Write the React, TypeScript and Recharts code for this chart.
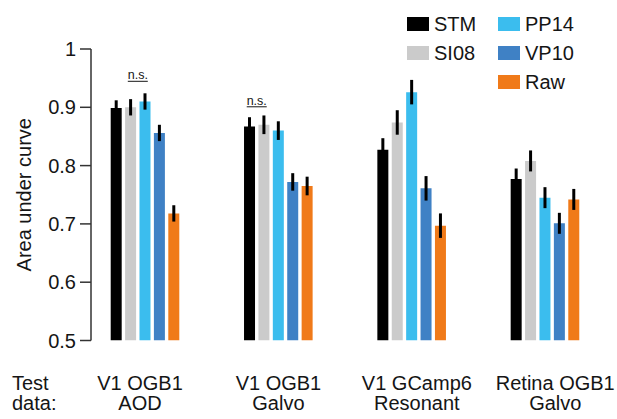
import React from 'react';
import { BarChart, Bar, XAxis, YAxis, ErrorBar, Legend, LabelList } from 'recharts';

// test datasets (two lines per label)
const groupLine1 = ['V1 OGB1', 'V1 OGB1', 'V1 GCamp6', 'Retina OGB1'];
const groupLine2 = ['AOD', 'Galvo', 'Resonant', 'Galvo'];

// area under curve per method
const stm = [0.899, 0.867, 0.827, 0.777];
const si08 = [0.9, 0.87, 0.874, 0.808];
const pp14 = [0.91, 0.86, 0.926, 0.745];
const vp10 = [0.856, 0.772, 0.761, 0.701];
const raw = [0.718, 0.765, 0.697, 0.742];

// s.e.m.
const stmErr = [0.013, 0.016, 0.02, 0.018];
const si08Err = [0.014, 0.016, 0.021, 0.018];
const pp14Err = [0.014, 0.016, 0.021, 0.018];
const vp10Err = [0.014, 0.015, 0.021, 0.018];
const rawErr = [0.014, 0.016, 0.021, 0.018];

const yTicks = [0.5, 0.6, 0.7, 0.8, 0.9, 1];

const series = [
  { key: 'STM', values: stm, errs: stmErr, color: '#000000' },
  { key: 'SI08', values: si08, errs: si08Err, color: '#cbcbcb' },
  { key: 'PP14', values: pp14, errs: pp14Err, color: '#3bbdee' },
  { key: 'VP10', values: vp10, errs: vp10Err, color: '#3f81c5' },
  { key: 'Raw', values: raw, errs: rawErr, color: '#f07a19' },
];

const legendColumns = [['STM', 'SI08'], ['PP14', 'VP10', 'Raw']];

// n.s. marks drawn next to the SI08 bar: group index and which neighbour
const nsMarks = [
  { group: 0, side: 'right', lift: 28 },
  { group: 1, side: 'left', lift: 20 },
];

const data = groupLine1.map((l1, i) => {
  const row: any = { name: `${l1} ${groupLine2[i]}` };
  series.forEach((s) => {
    row[s.key] = s.values[i];
    row[s.key + 'Err'] = s.errs[i];
  });
  return row;
});

const FONT = '"Liberation Sans", Arial, sans-serif';
const TEXT = '#151515';
const BAR_GAP = 3.4;

const GroupTick = (props: any) => {
  const { x, y, index } = props;
  return (
    <text x={x} y={y} textAnchor="middle" fontSize={20} fill={TEXT} fontFamily={FONT}>
      <tspan x={x} dy={49.5}>{groupLine1[index]}</tspan>
      <tspan x={x} dy={20}>{groupLine2[index]}</tspan>
    </text>
  );
};

const NsLabel = (props: any) => {
  const { x, y, width, index } = props;
  const mark = nsMarks.find((m) => m.group === index);
  if (!mark) return null;
  const cx = mark.side === 'right' ? x + width + BAR_GAP / 2 : x - BAR_GAP / 2;
  const base = y - mark.lift;
  return (
    <g>
      <text x={cx} y={base} textAnchor="middle" fontSize={12.5} fill={TEXT} fontFamily={FONT}>
        n.s.
      </text>
      <line x1={cx - 10} x2={cx + 10} y1={base + 2} y2={base + 2} stroke={TEXT} strokeWidth={1} />
    </g>
  );
};

const renderLegend = () => (
  <div style={{ display: 'flex', fontFamily: FONT, fontSize: 20, color: TEXT }}>
    {legendColumns.map((col, ci) => (
      <div key={ci} style={{ width: ci === 0 ? 91 : 100 }}>
        {col.map((name) => {
          const s = series.find((x) => x.key === name)!;
          return (
            <div key={name} style={{ display: 'flex', alignItems: 'center', height: 29, lineHeight: '20px' }}>
              <span style={{ width: 22, height: 14, background: s.color, marginRight: 5, flex: 'none' }} />
              <span>{name}</span>
            </div>
          );
        })}
      </div>
    ))}
  </div>
);

export default function App() {
  return (
    <div style={{ position: 'absolute', left: 0, top: 0, background: '#fff' }}>
      <BarChart
        width={617}
        height={419}
        data={data}
        margin={{ top: 49, right: 5, bottom: 0, left: 0 }}
        barSize={11}
        barGap={BAR_GAP}
      >
        <XAxis dataKey="name" xAxisId="bars" hide height={0} padding={{ left: -12.3, right: 0 }} />
        <XAxis
          dataKey="name"
          xAxisId="labels"
          height={78.5}
          axisLine={false}
          tickLine={false}
          tickSize={0}
          tickMargin={0}
          interval={0}
          padding={{ left: -20.2, right: -12.5 }}
          tick={<GroupTick />}
          label={{
            content: (p: any) => (
              <text x={12} y={p.viewBox.y} fontSize={20} fill={TEXT} fontFamily={FONT}>
                <tspan x={12} dy={49.5}>Test</tspan>
                <tspan x={12} dy={20}>data:</tspan>
              </text>
            ),
          }}
        />
        <YAxis
          width={91}
          domain={[0.5, 1]}
          ticks={yTicks}
          allowDataOverflow
          stroke="#333"
          strokeWidth={1.5}
          tickSize={11}
          tickMargin={4}
          tick={{ fontSize: 20, fill: TEXT, fontFamily: FONT }}
          tickFormatter={(v: number) => (v === 1 ? '1' : v.toFixed(1))}
          label={{
            content: (p: any) => {
              const cy = p.viewBox.y + p.viewBox.height / 2;
              return (
                <text
                  x={24}
                  y={cy}
                  transform={`rotate(-90, 24, ${cy})`}
                  textAnchor="middle"
                  dominantBaseline="central"
                  fontSize={20}
                  fill={TEXT}
                  fontFamily={FONT}
                >
                  Area under curve
                </text>
              );
            },
          }}
        />
        <Legend
          layout="vertical"
          align="center"
          verticalAlign="middle"
          content={renderLegend}
          wrapperStyle={{ top: 9, left: 407, width: 210 }}
        />
        {series.map((s) => (
          <Bar key={s.key} dataKey={s.key} xAxisId="bars" fill={s.color} isAnimationActive={false}>
            <ErrorBar dataKey={s.key + 'Err'} width={0} stroke="#000" strokeWidth={3} />
            {s.key === 'SI08' && <LabelList dataKey={s.key} content={<NsLabel />} />}
          </Bar>
        ))}
      </BarChart>
    </div>
  );
}
